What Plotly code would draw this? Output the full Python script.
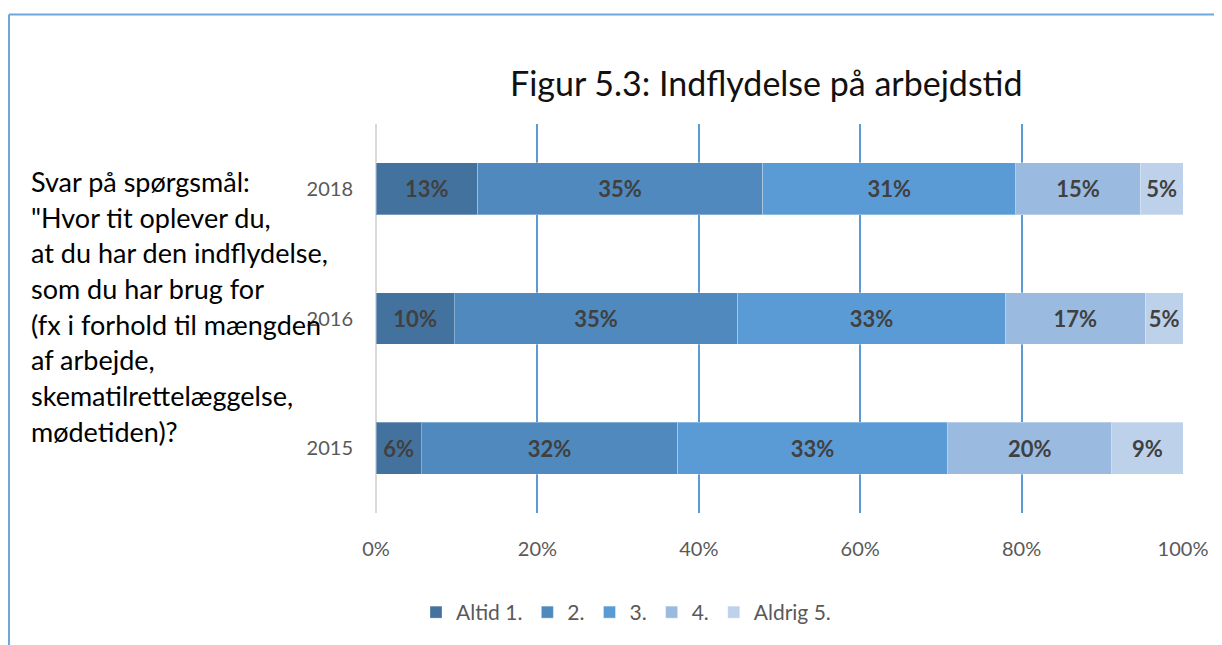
import plotly.graph_objects as go

years = ["2015", "2016", "2018"]
series_names = ["Altid 1.", "2.", "3.", "4.", "Aldrig 5."]
altid1 = [0.056, 0.097, 0.126]
s2 = [0.318, 0.351, 0.353]
s3 = [0.334, 0.332, 0.314]
s4 = [0.204, 0.173, 0.154]
aldrig5 = [0.088, 0.047, 0.053]
colors = ["#44729e", "#4f89bd", "#5b9bd5", "#9abae0", "#bed1ea"]
x_ticks = [0, 0.2, 0.4, 0.6, 0.8, 1.0]
x_tick_labels = ["0%", "20%", "40%", "60%", "80%", "100%"]
title_text = "Figur 5.3: Indflydelse på arbejdstid"
side_lines = [
    "Svar på spørgsmål:",
    "\"Hvor tit oplever du,",
    "at du har den indflydelse,",
    "som du har brug for",
    "(fx i forhold til mængden",
    "af arbejde,",
    "skematilrettelæggelse,",
    "mødetiden)?",
]

FONT = "Lato, Calibri, sans-serif"
OX, OY = 8, 8  # page offset of the figure in the window
W, H = 1214, 637
L, T = 376 - OX, 124 - OY
PW, PH = 807, 391
R, B = W - L - PW, H - T - PH


def px_x(x):
    return (x - OX - L) / PW


def px_y(y):
    return 1 - (y - OY - T) / PH


fig = go.Figure()
for name, vals, col in zip(series_names, [altid1, s2, s3, s4, aldrig5], colors):
    fig.add_trace(go.Bar(
        y=years, x=vals, name=name, orientation="h",
        marker=dict(color=col, line=dict(color="rgba(255,255,255,0.3)", width=1)),
        texttemplate="<b>%{x:.0%}</b>", textposition="inside",
        insidetextanchor="middle", textangle=0,
        textfont=dict(family=FONT, size=22, color="#404040"),
        hoverinfo="skip",
    ))

annotations = [dict(
    text=title_text, xref="paper", yref="paper",
    x=px_x(766), y=px_y(82), xanchor="center", yanchor="middle",
    showarrow=False, font=dict(family=FONT, size=34, color="#111111"),
)]
for i, line in enumerate(side_lines):
    annotations.append(dict(
        text=line, xref="paper", yref="paper",
        x=px_x(29), y=px_y(182 + i * 35.8), xanchor="left", yanchor="middle",
        showarrow=False, font=dict(family=FONT, size=27, color="#000000"),
    ))

shapes = [
    dict(type="line", xref="paper", yref="paper",
         x0=px_x(9), x1=px_x(1260), y0=px_y(14), y1=px_y(14),
         line=dict(color="#6fa6dc", width=2)),
    dict(type="line", xref="paper", yref="paper",
         x0=px_x(9), x1=px_x(9), y0=px_y(14), y1=px_y(680),
         line=dict(color="#6fa6dc", width=2)),
]

fig.update_layout(
    width=W, height=H,
    margin=dict(l=L, r=R, t=T, b=B),
    barmode="stack", bargap=0.6,
    plot_bgcolor="white", paper_bgcolor="white",
    showlegend=True,
    legend=dict(orientation="h", x=px_x(626), y=px_y(615),
                xanchor="center", yanchor="middle",
                font=dict(family=FONT, size=21, color="#595959"),
                traceorder="normal", itemwidth=30),
    annotations=annotations,
    shapes=shapes,
    xaxis=dict(range=[0, 1], tickvals=x_ticks, ticktext=x_tick_labels,
               showgrid=True, gridcolor="#5b9bd5", gridwidth=2,
               zeroline=True, zerolinecolor="#d9d9d9", zerolinewidth=2,
               showline=False, ticks="", ticklabelstandoff=22,
               tickfont=dict(family=FONT, size=20, color="#595959"),
               fixedrange=True),
    yaxis=dict(showgrid=False, zeroline=False, showline=False, ticks="",
               ticklabelstandoff=22,
               tickfont=dict(family=FONT, size=20, color="#595959"),
               fixedrange=True),
)

fig.write_html("out.html")
